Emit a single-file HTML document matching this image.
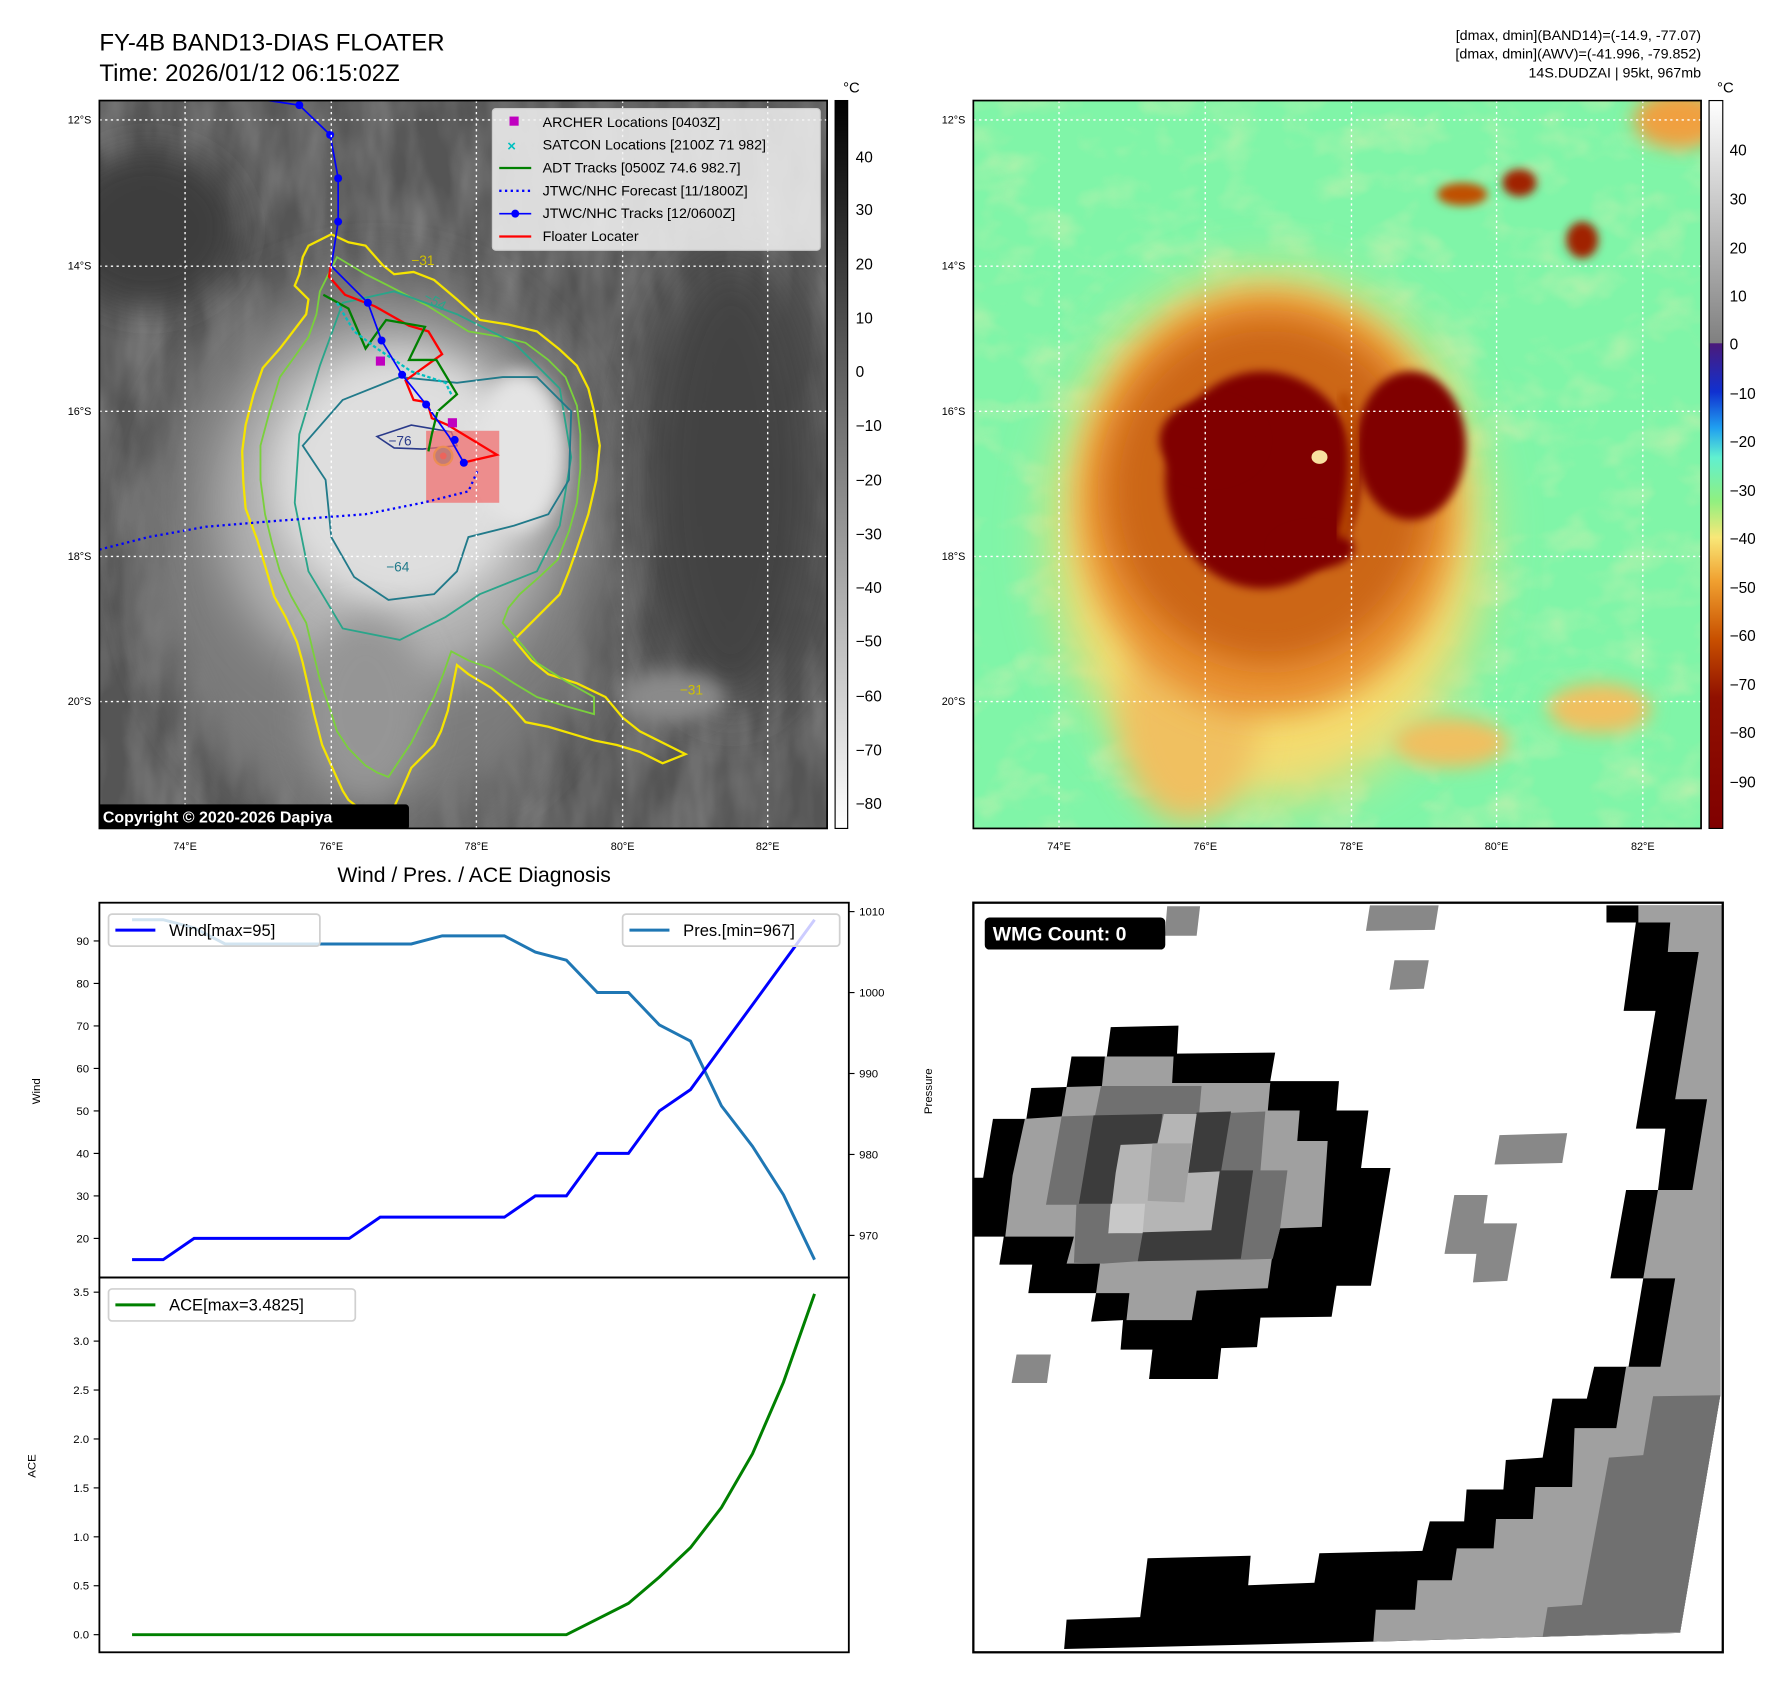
<!DOCTYPE html>
<html><head><meta charset="utf-8">
<style>
html,body{margin:0;padding:0;background:#fff;}
svg{display:block;font-family:"Liberation Sans","DejaVu Sans",sans-serif;}
</style></head>
<body>
<svg id="root" width="1792" height="1690" viewBox="0 0 1568.6 1479" preserveAspectRatio="none" xmlns="http://www.w3.org/2000/svg">
<defs>
  <filter id="blur8" x="-50%" y="-50%" width="200%" height="200%"><feGaussianBlur stdDeviation="8"/></filter>
  <filter id="blur14" x="-50%" y="-50%" width="200%" height="200%"><feGaussianBlur stdDeviation="14"/></filter>
  <filter id="blur20" x="-50%" y="-50%" width="200%" height="200%"><feGaussianBlur stdDeviation="22"/></filter>
  <filter id="blur4" x="-50%" y="-50%" width="200%" height="200%"><feGaussianBlur stdDeviation="4"/></filter>
  <filter id="tex" x="0" y="0" width="100%" height="100%">
    <feTurbulence type="fractalNoise" baseFrequency="0.035 0.012" numOctaves="3" seed="4"/>
    <feColorMatrix type="matrix" values="0 0 0 0 1  0 0 0 0 1  0 0 0 0 1  0.9 0 0 0 -0.25"/>
  </filter>
  <filter id="tex2" x="0" y="0" width="100%" height="100%">
    <feTurbulence type="fractalNoise" baseFrequency="0.02 0.03" numOctaves="3" seed="9"/>
    <feColorMatrix type="matrix" values="0 0 0 0 0.97  0 0 0 0 0.85  0 0 0 0 0.45  1.6 0 0 0 -0.75"/>
  </filter>
  <linearGradient id="cbGray" x1="0" y1="0" x2="0" y2="1">
    <stop offset="0" stop-color="#000"/><stop offset="1" stop-color="#fff"/>
  </linearGradient>
  <linearGradient id="cbColor" x1="0" y1="0" x2="0" y2="1">
    <stop offset="0" stop-color="#ffffff"/>
    <stop offset="0.333" stop-color="#808080"/>
    <stop offset="0.334" stop-color="#4b1a7a"/>
    <stop offset="0.40" stop-color="#1030d0"/>
    <stop offset="0.45" stop-color="#20a0f0"/>
    <stop offset="0.49" stop-color="#60f0d0"/>
    <stop offset="0.55" stop-color="#90f080"/>
    <stop offset="0.60" stop-color="#f8e878"/>
    <stop offset="0.66" stop-color="#f0a030"/>
    <stop offset="0.74" stop-color="#c85000"/>
    <stop offset="0.82" stop-color="#901000"/>
    <stop offset="1" stop-color="#800000"/>
  </linearGradient>
  <clipPath id="clipL"><rect x="87" y="88" width="637" height="637"/></clipPath>
  <clipPath id="clipR"><rect x="852" y="88" width="637" height="637"/></clipPath>
  <clipPath id="clipB"><rect x="852" y="790" width="656" height="656"/></clipPath>
</defs>

<!-- ================= TOP LEFT MAP ================= -->
<text x="87" y="44" font-size="21">FY-4B BAND13-DIAS FLOATER</text>
<text x="87" y="71" font-size="21">Time: 2026/01/12 06:15:02Z</text>

<g clip-path="url(#clipL)">
  <rect x="87" y="88" width="637" height="637" fill="#555"/>
  <rect x="87" y="88" width="637" height="637" filter="url(#tex)" opacity="0.4"/>
  <ellipse cx="130" cy="200" rx="80" ry="70" fill="#3c3c3c" filter="url(#blur14)"/>
  <ellipse cx="640" cy="420" rx="80" ry="200" fill="#424242" filter="url(#blur20)"/>
  <ellipse cx="330" cy="480" rx="200" ry="240" fill="#7c7c7c" filter="url(#blur20)"/>
  <ellipse cx="340" cy="440" rx="150" ry="160" fill="#b4b4b4" filter="url(#blur20)"/>
  <ellipse cx="350" cy="420" rx="110" ry="110" fill="#dedede" filter="url(#blur14)"/>
  <ellipse cx="455" cy="395" rx="40" ry="70" fill="#e4e4e4" filter="url(#blur8)"/>
  <ellipse cx="320" cy="620" rx="55" ry="80" fill="#959595" filter="url(#blur14)"/>
  <ellipse cx="590" cy="610" rx="45" ry="22" fill="#8a8a8a" filter="url(#blur8)"/>
  <path fill="none" stroke="#f5e400" stroke-width="2" d="M290,205 L305,212 L320,215 L335,232 L345,240 L362,238 L380,245 L400,262 L420,280 L445,284 L470,290 L490,306 L505,320 L515,340 L520,360 L525,390 L522,420 L515,450 L505,480 L498,500 L490,520 L470,540 L450,560 L465,578 L480,590 L505,598 L530,610 L545,628 L560,640 L600,660 L580,668 L560,658 L540,652 L520,648 L500,642 L480,636 L460,632 L445,615 L430,602 L410,590 L400,582 L392,622 L386,640 L380,652 L360,672 L350,695 L338,722 L320,712 L305,700 L300,692 L290,670 L282,652 L275,625 L270,602 L265,580 L260,562 L250,540 L240,522 L232,495 L225,472 L215,445 L213,422 L212,395 L215,372 L222,345 L230,322 L245,305 L255,292 L268,275 L270,262 L258,250 L262,240 L265,225 L270,215 Z"/>
  <path fill="none" stroke="#7ad03c" stroke-width="1.6" d="M295,225 L320,240 L340,250 L375,268 L410,290 L440,295 L460,300 L480,315 L495,330 L505,355 L508,380 L508,410 L505,440 L498,465 L488,490 L472,505 L455,520 L445,532 L440,545 L455,562 L470,580 L495,596 L520,610 L520,625 L495,618 L470,610 L450,598 L430,585 L410,578 L395,570 L388,590 L380,610 L370,630 L360,650 L350,665 L340,680 L330,676 L320,670 L305,655 L295,640 L288,618 L280,595 L274,570 L268,545 L255,522 L245,500 L238,475 L232,450 L228,420 L228,390 L236,360 L245,330 L258,312 L270,295 L277,275 L280,255 Z"/>
  <path fill="none" stroke="#2aa58a" stroke-width="1.6" d="M300,265 L345,255 L400,275 L450,300 L490,340 L500,400 L490,460 L470,500 L420,520 L390,540 L350,560 L300,550 L270,500 L258,440 L262,380 L280,320 Z"/>
  <path fill="none" stroke="#217a8a" stroke-width="1.6" d="M300,350 L350,330 L400,335 L440,330 L470,330 L500,360 L498,420 L480,450 L450,460 L410,470 L400,500 L380,520 L340,525 L310,505 L290,470 L285,420 L265,390 Z"/>
  <path fill="none" stroke="#2a3a8a" stroke-width="1.4" d="M330,382 L360,372 L395,378 L400,390 L370,393 L345,392 Z"/>
  <circle cx="388" cy="399" r="8" fill="#3a9a8a" stroke="#e0e000" stroke-width="2"/>
  <circle cx="388" cy="399" r="3" fill="#e04020"/>
  <text x="360" y="232" font-size="12" fill="#d0c000">−31</text>
  <text x="370" y="262" font-size="12" fill="#2aa58a" transform="rotate(30 370 262)">−54</text>
  <text x="340" y="390" font-size="12" fill="#2a3a8a">−76</text>
  <text x="338" y="500" font-size="12" fill="#217a8a">−64</text>
  <text x="595" y="608" font-size="12" fill="#d0c000">−31</text>
  <rect x="373" y="377" width="64" height="63" fill="#f07070" opacity="0.75"/>
  <polyline fill="none" stroke="#0000ff" stroke-width="2" stroke-dasharray="2,3" points="87,481 130,470 180,461 240,456 320,450 370,440 410,430 418,412"/>
  <polyline fill="none" stroke="#ff0000" stroke-width="2" points="290,230 288,242 302,258 328,268 358,285 375,290 387,310 355,333 362,350 374,352 378,366 392,372 435,398 405,405"/>
  <polyline fill="none" stroke="#008000" stroke-width="2" points="283,258 305,270 320,305 338,280 372,286 358,315 382,315 400,345 383,360 378,380 375,395"/>
  <polyline fill="none" stroke="#00c0c0" stroke-width="2" stroke-dasharray="3,2" points="295,265 310,290 330,305 360,325 390,335 395,345"/>
  <polyline fill="none" stroke="#0000ff" stroke-width="1.5" points="235,88 262,92 289,118 296,156 296,194 290,233 322,265 334,298 352,328 373,354 393,382 406,405"/>
  <g fill="#0000ff">
    <circle cx="262" cy="92" r="3.5"/><circle cx="289" cy="118" r="3.5"/><circle cx="296" cy="156" r="3.5"/><circle cx="296" cy="194" r="3.5"/><circle cx="322" cy="265" r="3.5"/><circle cx="334" cy="298" r="3.5"/><circle cx="352" cy="328" r="3.5"/><circle cx="373" cy="354" r="3.5"/><circle cx="398" cy="385" r="3.5"/><circle cx="406" cy="405" r="3.5"/>
  </g>
  <rect x="329" y="312" width="8" height="8" fill="#c000c0"/>
  <rect x="392" y="366" width="8" height="8" fill="#c000c0"/>
  <g stroke="#fff" stroke-width="1.2" stroke-dasharray="2,3">
    <line x1="87" x2="724" y1="105" y2="105"/><line x1="87" x2="724" y1="233" y2="233"/><line x1="87" x2="724" y1="360" y2="360"/><line x1="87" x2="724" y1="487" y2="487"/><line x1="87" x2="724" y1="614" y2="614"/>
    <line y1="88" y2="725" x1="162" x2="162"/><line y1="88" y2="725" x1="290" x2="290"/><line y1="88" y2="725" x1="417" x2="417"/><line y1="88" y2="725" x1="545" x2="545"/><line y1="88" y2="725" x1="672" x2="672"/>
  </g>
  <g>
    <rect x="431" y="95" width="287" height="124" rx="3" fill="#f2f2f2" fill-opacity="0.85" stroke="#ccc"/>
    <rect x="446" y="102" width="8" height="8" fill="#c000c0"/>
    <text x="475" y="111" font-size="12.5">ARCHER Locations [0403Z]</text>
    <text x="444" y="132" font-size="13" fill="#00c0c0" font-weight="bold">×</text>
    <text x="475" y="131" font-size="12.5">SATCON Locations [2100Z 71 982]</text>
    <line x1="437" x2="465" y1="147" y2="147" stroke="#008000" stroke-width="2"/>
    <text x="475" y="151" font-size="12.5">ADT Tracks [0500Z 74.6 982.7]</text>
    <line x1="437" x2="465" y1="167" y2="167" stroke="#0000ff" stroke-width="2" stroke-dasharray="2,3"/>
    <text x="475" y="171" font-size="12.5">JTWC/NHC Forecast [11/1800Z]</text>
    <line x1="437" x2="465" y1="187" y2="187" stroke="#0000ff" stroke-width="1.5"/><circle cx="451" cy="187" r="3.5" fill="#0000ff"/>
    <text x="475" y="191" font-size="12.5">JTWC/NHC Tracks [12/0600Z]</text>
    <line x1="437" x2="465" y1="207" y2="207" stroke="#ff0000" stroke-width="2"/>
    <text x="475" y="211" font-size="12.5">Floater Locater</text>
  </g>
  <rect x="84" y="704" width="274" height="22" rx="3" fill="#000"/>
  <text x="90" y="720" font-size="14" font-weight="bold" fill="#fff">Copyright © 2020-2026 Dapiya</text>
</g>
<rect x="87" y="88" width="637" height="637" fill="none" stroke="#000" stroke-width="1.5"/>
<g font-size="9.5" text-anchor="end">
  <text x="80" y="108">12°S</text><text x="80" y="236">14°S</text><text x="80" y="363">16°S</text><text x="80" y="490">18°S</text><text x="80" y="617">20°S</text>
</g>
<g font-size="9.5" text-anchor="middle">
  <text x="162" y="744">74°E</text><text x="290" y="744">76°E</text><text x="417" y="744">78°E</text><text x="545" y="744">80°E</text><text x="672" y="744">82°E</text>
</g>
<g>
  <rect x="731" y="88" width="11" height="637" fill="url(#cbGray)" stroke="#000" stroke-width="1"/>
  <text x="738" y="81" font-size="13">°C</text>
  <g font-size="13.5">
    <text x="749" y="142">40</text><text x="749" y="188">30</text><text x="749" y="236">20</text><text x="749" y="283">10</text><text x="749" y="330">0</text><text x="749" y="377">−10</text><text x="749" y="425">−20</text><text x="749" y="472">−30</text><text x="749" y="519">−40</text><text x="749" y="566">−50</text><text x="749" y="614">−60</text><text x="749" y="661">−70</text><text x="749" y="708">−80</text>
  </g>
</g>

<!-- ================= TOP RIGHT MAP ================= -->
<g font-size="12.5" text-anchor="end">
  <text x="1489" y="35">[dmax, dmin](BAND14)=(-14.9, -77.07)</text>
  <text x="1489" y="51">[dmax, dmin](AWV)=(-41.996, -79.852)</text>
  <text x="1489" y="68">14S.DUDZAI | 95kt, 967mb</text>
</g>
<g clip-path="url(#clipR)">
  <rect x="852" y="88" width="637" height="637" fill="#80f5a8"/>
  <rect x="852" y="88" width="637" height="637" filter="url(#tex2)" opacity="0.55"/>
  <ellipse cx="1470" cy="105" rx="40" ry="25" fill="#f0a040" filter="url(#blur8)"/>
  <ellipse cx="1330" cy="160" rx="15" ry="12" fill="#a02000" filter="url(#blur4)"/>
  <ellipse cx="1385" cy="210" rx="14" ry="16" fill="#a02000" filter="url(#blur4)"/>
  <ellipse cx="1280" cy="170" rx="22" ry="10" fill="#c05000" filter="url(#blur4)"/>
  <ellipse cx="1400" cy="620" rx="45" ry="22" fill="#f0c060" filter="url(#blur8)"/>
  <ellipse cx="1110" cy="470" rx="190" ry="230" fill="#f4dc70" filter="url(#blur20)"/>
  <ellipse cx="1040" cy="630" rx="60" ry="90" fill="#f0c060" filter="url(#blur14)"/>
  <ellipse cx="1270" cy="650" rx="50" ry="22" fill="#f0c060" filter="url(#blur8)"/>
  <ellipse cx="1110" cy="440" rx="165" ry="185" fill="#e89030" filter="url(#blur14)"/>
  <ellipse cx="1110" cy="430" rx="140" ry="150" fill="#cc6612" filter="url(#blur14)"/>
  <ellipse cx="1105" cy="420" rx="85" ry="95" fill="#800000" filter="url(#blur4)"/>
  <ellipse cx="1235" cy="390" rx="48" ry="65" fill="#800000" filter="url(#blur4)"/>
  <ellipse cx="1150" cy="480" rx="35" ry="18" fill="#800000" filter="url(#blur4)"/>
  <ellipse cx="1060" cy="385" rx="45" ry="35" fill="#800000" filter="url(#blur4)"/>
  <path d="M1175,345 Q1195,400 1175,470" stroke="#b84a00" stroke-width="10" fill="none" filter="url(#blur4)"/>
  <ellipse cx="1155" cy="400" rx="7" ry="6" fill="#f8e0a0"/>
  <g stroke="#fff" stroke-width="1.2" stroke-dasharray="2,3">
    <line x1="852" x2="1489" y1="105" y2="105"/><line x1="852" x2="1489" y1="233" y2="233"/><line x1="852" x2="1489" y1="360" y2="360"/><line x1="852" x2="1489" y1="487" y2="487"/><line x1="852" x2="1489" y1="614" y2="614"/>
    <line y1="88" y2="725" x1="927" x2="927"/><line y1="88" y2="725" x1="1055" x2="1055"/><line y1="88" y2="725" x1="1183" x2="1183"/><line y1="88" y2="725" x1="1310" x2="1310"/><line y1="88" y2="725" x1="1438" x2="1438"/>
  </g>
</g>
<rect x="852" y="88" width="637" height="637" fill="none" stroke="#000" stroke-width="1.5"/>
<g font-size="9.5" text-anchor="end">
  <text x="845" y="108">12°S</text><text x="845" y="236">14°S</text><text x="845" y="363">16°S</text><text x="845" y="490">18°S</text><text x="845" y="617">20°S</text>
</g>
<g font-size="9.5" text-anchor="middle">
  <text x="927" y="744">74°E</text><text x="1055" y="744">76°E</text><text x="1183" y="744">78°E</text><text x="1310" y="744">80°E</text><text x="1438" y="744">82°E</text>
</g>
<g>
  <rect x="1496" y="88" width="12" height="637" fill="url(#cbColor)" stroke="#000" stroke-width="1"/>
  <text x="1503" y="81" font-size="13">°C</text>
  <g font-size="13.5">
    <text x="1514" y="136">40</text><text x="1514" y="179">30</text><text x="1514" y="222">20</text><text x="1514" y="264">10</text><text x="1514" y="306">0</text><text x="1514" y="349">−10</text><text x="1514" y="391">−20</text><text x="1514" y="434">−30</text><text x="1514" y="476">−40</text><text x="1514" y="519">−50</text><text x="1514" y="561">−60</text><text x="1514" y="604">−70</text><text x="1514" y="646">−80</text><text x="1514" y="689">−90</text>
  </g>
</g>

<!-- ================= BOTTOM RIGHT WMG ================= -->
<g clip-path="url(#clipB)">
  <rect x="852" y="790" width="656" height="656" fill="#fff"/>
  <g transform="translate(852,788) scale(0.4296,0.4296)">
    <polygon fill="#000" points="1290,10 1290,45 1350,45 1325,225 1390,225 1350,465 1410,465 1395,590 1330,590 1298,770 1365,770 1335,950 1265,950 1250,1015 1180,1015 1160,1135 1085,1140 1080,1200 1005,1200 1000,1265 930,1265 915,1325 705,1330 695,1390 560,1395 565,1335 355,1340 340,1460 190,1465 185,1525 815,1510 1160,1500 1440,1492 1522,1008 1525,10"/>
    <polygon fill="#a0a0a0" points="1355,10 1525,10 1522,1008 1440,1492 1160,1500 815,1510 820,1445 900,1445 905,1385 975,1385 985,1320 1060,1320 1065,1260 1140,1260 1145,1195 1220,1195 1225,1075 1310,1075 1330,950 1400,950 1430,770 1365,770 1395,590 1465,590 1495,405 1430,405 1478,105 1415,105 1420,45 1355,45"/>
    <polygon fill="#707070" points="1385,1010 1522,1008 1440,1490 1160,1500 1170,1440 1240,1435 1295,1135 1365,1130"/>
    <polygon fill="#000" points="280,258 418,255 415,312 615,310 605,368 745,368 740,428 805,428 790,545 850,545 810,785 740,785 730,848 585,850 578,910 505,912 498,975 358,975 365,915 300,915 305,855 240,858 250,800 112,800 120,742 53,742 62,685 0,685 0,565 20,565 40,445 108,445 118,382 190,380 200,318 272,318"/>
    <polygon fill="#a0a0a0" points="268,318 408,318 405,372 605,372 600,428 665,428 660,490 722,490 710,665 625,668 608,732 600,790 455,795 445,855 312,855 318,800 250,800 258,740 190,740 205,685 65,685 80,560 105,445 180,440 190,380 262,378"/>
    <polygon fill="#707070" points="260,378 465,378 460,435 595,430 585,550 640,550 625,668 610,730 545,732 335,735 265,740 205,738 210,620 148,620 180,440 248,438"/>
    <polygon fill="#3c3c3c" points="245,438 385,435 378,495 440,495 455,432 525,430 505,550 570,550 545,730 335,735 345,678 278,678 285,618 215,618"/>
    <polygon fill="#b5b5b5" points="300,498 375,495 388,435 455,435 438,555 502,552 485,672 275,678 290,555"/>
    <polygon fill="#a0a0a0" points="365,495 445,495 430,615 355,612"/>
    <polygon fill="#c8c8c8" points="280,618 350,618 345,678 275,678"/>
    <g fill="#888">
      <polygon points="395,12 462,12 455,72 390,72"/>
      <polygon points="808,10 948,10 940,60 800,62"/>
      <polygon points="858,122 928,122 918,180 848,182"/>
      <polygon points="1072,478 1210,474 1200,535 1062,538"/>
      <polygon points="980,600 1048,600 1040,658 1108,658 1088,775 1018,778 1025,720 960,720"/>
      <polygon points="88,925 158,925 150,983 78,983"/>
    </g>
  </g>
  <rect x="862" y="803" width="158" height="28" rx="4" fill="#000"/>
  <text x="869" y="823" font-size="17" font-weight="bold" fill="#fff">WMG Count: 0</text>
</g>
<rect x="852" y="790" width="656" height="656" fill="none" stroke="#000" stroke-width="2"/>

<!-- ================= BOTTOM LEFT CHART ================= -->
<text x="415" y="772" font-size="18.5" text-anchor="middle">Wind / Pres. / ACE Diagnosis</text>
<g id="chart"></g>
</svg>

<script>
// ---- chart data ----
const timeIndex = [0,1,2,3,4,5,6,7,8,9,10,11,12,13,14,15,16,17,18,19,20,21,22];
const windValues = [15,15,20,20,20,20,20,20,25,25,25,25,25,30,30,40,40,50,55,65,75,85,95];
const pressureValues = [1009,1009,1008,1006,1006,1006,1006,1006,1006,1006,1007,1007,1007,1005,1004,1000,1000,996,994,986,981,975,967];
const aceValues = [0,0,0,0,0,0,0,0,0,0,0,0,0,0,0,0.16,0.32,0.59,0.89,1.30,1.85,2.58,3.4825];
const windTicks = [20,30,40,50,60,70,80,90];
const pressureTicks = [970,980,990,1000,1010];
const aceTicks = [0.0,0.5,1.0,1.5,2.0,2.5,3.0,3.5];

const NS = 'http://www.w3.org/2000/svg';
const chart = document.getElementById('chart');
const L = 87, R = 743, T1 = 790, B1 = 1118, T2 = 1118, B2 = 1446;
const xFirst = 115.6, xLast = 713;
function xPos(i){ return xFirst + (xLast - xFirst) * i / (timeIndex.length - 1); }
function yWind(v){ return B1 - (v - 10.8) / (99 - 10.8) * (B1 - T1); }
function yPres(v){ return B1 - (v - 964.8) / (1011.1 - 964.8) * (B1 - T1); }
function yAce(v){ return B2 - (v + 0.18) / (3.65 + 0.18) * (B2 - T2); }

function mk(tag, attrs, parent){
  const e = document.createElementNS(NS, tag);
  for (const k in attrs) e.setAttribute(k, attrs[k]);
  (parent || chart).appendChild(e);
  return e;
}
function txt(x, y, s, size, anchor){
  const t = mk('text', {x:x, y:y, 'font-size':size, 'text-anchor':anchor||'start'});
  t.textContent = s;
  return t;
}
function linePath(vals, yf){
  return vals.map((v,i)=>(i?'L':'M')+xPos(i).toFixed(1)+','+yf(v).toFixed(1)).join(' ');
}

const pres = mk('path', {d:linePath(pressureValues, yPres), fill:'none', stroke:'#1f77b4', 'stroke-width':2.6});


const wind = mk('path', {d:linePath(windValues, yWind), fill:'none', stroke:'#0000ff', 'stroke-width':2.6});


const ace = mk('path', {d:linePath(aceValues, yAce), fill:'none', stroke:'#008000', 'stroke-width':2.6});



const f1 = mk('rect', {x:L, y:T1, width:R-L, height:B1-T1, fill:'none', stroke:'#000', 'stroke-width':1.6});


const f2 = mk('rect', {x:L, y:T2, width:R-L, height:B2-T2, fill:'none', stroke:'#000', 'stroke-width':1.6});



windTicks.forEach(v=>{
  const y = yWind(v);
  mk('line', {x1:L-5, x2:L, y1:y, y2:y, stroke:'#000', 'stroke-width':1});
  const t = txt(L-9, y+3.5, String(v), 10, 'end');
  
  
});
pressureTicks.forEach(v=>{
  const y = yPres(v);
  mk('line', {x1:R, x2:R+5, y1:y, y2:y, stroke:'#000', 'stroke-width':1});
  const t = txt(R+9, y+3.5, String(v), 10, 'start');
  
  
});
aceTicks.forEach(v=>{
  const y = yAce(v);
  mk('line', {x1:L-5, x2:L, y1:y, y2:y, stroke:'#000', 'stroke-width':1});
  const t = txt(L-9, y+3.5, v.toFixed(1), 10, 'end');
  
  
});

const wl = txt(0, 0, 'Wind', 10, 'middle');
wl.setAttribute('transform', 'translate(35,955) rotate(-90)');


const pl = txt(0, 0, 'Pressure', 10, 'middle');
pl.setAttribute('transform', 'translate(816,955) rotate(-90)');


const al = txt(0, 0, 'ACE', 10, 'middle');
al.setAttribute('transform', 'translate(31,1283) rotate(-90)');



function legend(x, y, w, color, label, name){
  const g = mk('g', {});
  
  
  mk('rect', {x:x, y:y, width:w, height:28, rx:3, fill:'#fff', 'fill-opacity':0.8, stroke:'#d0d0d0', 'stroke-width':1.5}, g);
  mk('line', {x1:x+6, x2:x+41, y1:y+14, y2:y+14, stroke:color, 'stroke-width':2.6}, g);
  const t = mk('text', {x:x+53, y:y+19, 'font-size':14.5}, g);
  t.textContent = label;
}
legend(95, 800, 185, '#0000ff', 'Wind[max=95]', 'wind-legend');
legend(545, 800, 190, '#1f77b4', 'Pres.[min=967]', 'pressure-legend');
legend(95, 1128, 216, '#008000', 'ACE[max=3.4825]', 'ace-legend');
</script>
</body></html>
